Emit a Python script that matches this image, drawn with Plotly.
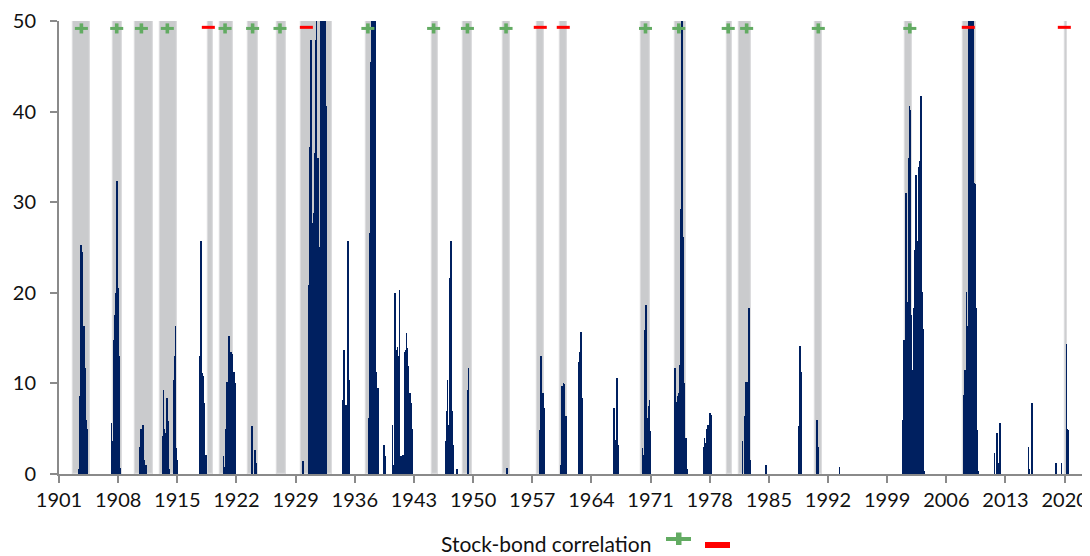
import plotly.graph_objects as go

# ---------------- data ----------------
# Recession periods (shaded bands), start month / end month
rec_start = ["1902-09", "1907-05", "1910-01", "1913-01", "1918-08", "1920-01", "1923-05",
             "1926-10", "1929-08", "1937-05", "1945-02", "1948-11", "1953-07", "1957-08",
             "1960-04", "1969-12", "1973-11", "1980-01", "1981-07", "1990-07", "2001-03",
             "2007-12", "2020-02"]
rec_end = ["1904-08", "1908-06", "1912-01", "1914-12", "1919-03", "1921-07", "1924-07",
           "1927-11", "1933-03", "1938-06", "1945-10", "1949-10", "1954-05", "1958-04",
           "1961-02", "1970-11", "1975-03", "1980-07", "1982-11", "1991-03", "2001-11",
           "2009-06", "2020-04"]

# Stock-bond correlation sign marker per recession (position in years)
marker_x = [1903.65, 1907.83, 1910.75, 1913.82, 1918.67, 1920.65, 1923.91, 1927.15,
            1930.27, 1937.55, 1945.33, 1949.33, 1953.90, 1957.95, 1960.67, 1970.40,
            1974.34, 1980.19, 1982.37, 1990.85, 2001.68, 2008.60, 2019.96]
marker_sign = ["+", "+", "+", "+", "-", "+", "+", "+", "-", "+", "+", "+", "+", "-",
               "-", "+", "+", "+", "+", "+", "+", "-", "-"]

# Monthly series (months not listed are zero)
months = (
    ["1903-05", "1903-06", "1903-07", "1903-08", "1903-09", "1903-10", "1903-11", "1903-12",
     "1904-01", "1904-02", "1904-03", "1904-04", "1904-05"]
    + ["1907-03", "1907-04", "1907-05", "1907-06", "1907-07", "1907-08", "1907-09", "1907-10",
       "1907-11", "1907-12", "1908-01", "1908-02", "1908-03"]
    + ["1910-08", "1910-09", "1910-10", "1910-11", "1910-12", "1911-01", "1911-02", "1911-04"]
    + ["1913-04", "1913-05", "1913-06", "1913-07", "1913-08", "1913-09", "1913-10", "1913-11",
       "1913-12", "1914-01", "1914-08", "1914-09", "1914-10", "1914-11", "1914-12"]
    + ["1917-08", "1917-09", "1917-10", "1917-11", "1917-12", "1918-01", "1918-02", "1918-03",
       "1918-04", "1918-05", "1918-06"]
    + ["1920-06", "1920-07", "1920-09", "1920-11", "1920-12", "1921-01", "1921-02", "1921-03",
       "1921-04", "1921-05", "1921-06", "1921-07", "1921-08", "1921-09", "1921-10", "1921-11"]
    + ["1923-11", "1924-03", "1924-04"]
    + ["1929-11",
       "1930-07", "1930-08", "1930-09", "1930-10", "1930-11", "1930-12",
       "1931-01", "1931-02", "1931-03", "1931-04", "1931-05", "1931-06",
       "1931-07", "1931-08", "1931-09", "1931-10", "1931-11", "1931-12",
       "1932-01", "1932-02", "1932-03", "1932-04", "1932-05", "1932-06", "1932-07", "1932-08"]
    + ["1934-07", "1934-08", "1934-09", "1934-10", "1934-11", "1934-12", "1935-01", "1935-02",
       "1935-03", "1935-04", "1935-05"]
    + ["1937-09", "1937-10", "1937-11", "1937-12", "1938-01", "1938-02", "1938-03", "1938-04",
       "1938-05", "1938-06", "1938-07", "1938-08", "1938-09", "1938-10"]
    + ["1939-06", "1939-07", "1939-08"]
    + ["1940-06", "1940-07", "1940-09", "1940-10", "1940-11", "1940-12", "1941-01", "1941-02",
       "1941-03", "1941-04", "1941-05", "1941-06", "1941-07", "1941-09", "1941-10", "1941-11",
       "1941-12", "1942-01", "1942-02", "1942-03", "1942-04", "1942-05", "1942-06", "1942-07",
       "1942-08", "1942-09", "1942-10"]
    + ["1946-10", "1946-11", "1946-12", "1947-01", "1947-02", "1947-03", "1947-04", "1947-05",
       "1947-06", "1947-07", "1947-08", "1948-02", "1949-05", "1949-06", "1954-01"]
    + ["1957-12", "1958-01", "1958-02", "1958-03", "1958-04", "1958-05", "1958-06"]
    + ["1960-05", "1960-06", "1960-07", "1960-08", "1960-09", "1960-10", "1960-11", "1960-12"]
    + ["1962-06", "1962-07", "1962-08", "1962-09", "1962-10", "1962-11", "1962-12"]
    + ["1966-09", "1966-10", "1966-11", "1967-01", "1967-02", "1967-03"]
    + ["1970-01", "1970-02", "1970-03", "1970-04", "1970-05", "1970-06", "1970-07", "1970-08",
       "1970-09", "1970-10", "1970-11", "1970-12"]
    + ["1973-11", "1973-12", "1974-01", "1974-02", "1974-03", "1974-04", "1974-05", "1974-06",
       "1974-07", "1974-08", "1974-09", "1974-10", "1974-11", "1974-12", "1975-01", "1975-02",
       "1975-03", "1975-04"]
    + ["1977-04", "1977-05", "1977-06", "1977-07", "1977-08", "1977-09", "1977-10", "1977-11",
       "1977-12", "1978-01", "1978-02", "1978-03"]
    + ["1981-11", "1982-03", "1982-04", "1982-05", "1982-06", "1982-07", "1982-08", "1982-09",
       "1982-10", "1984-08"]
    + ["1988-07", "1988-09", "1988-10", "1990-08", "1990-09", "1990-10", "1990-11", "1993-05"]
    + ["2000-11", "2000-12",
       "2001-01", "2001-02", "2001-03", "2001-04", "2001-05", "2001-06",
       "2001-07", "2001-08", "2001-09", "2001-10", "2001-11", "2001-12",
       "2002-01", "2002-02", "2002-03", "2002-04", "2002-05", "2002-06",
       "2002-07", "2002-08", "2002-09", "2002-10", "2002-11", "2002-12",
       "2003-01", "2003-02", "2003-03", "2003-04", "2003-05"]
    + ["2008-01", "2008-02", "2008-03", "2008-04", "2008-05", "2008-06", "2008-07", "2008-08",
       "2008-09", "2008-10", "2008-11", "2008-12", "2009-01", "2009-02", "2009-03", "2009-04",
       "2009-05", "2009-06", "2009-07", "2009-08", "2009-09"]
    + ["2011-09", "2011-12", "2012-01", "2012-02", "2012-04", "2012-05",
       "2015-09", "2015-10", "2016-02",
       "2018-12", "2019-01", "2019-08", "2020-03", "2020-04", "2020-05"]
)
values = (
    [0.5, 8.6, 16.8, 25.3, 24.5, 19.2, 11.7, 16.3, 11.7, 11.5, 6, 5, 0.5]
    + [5.6, 3.6, 2.5, 8, 14.8, 17.6, 20, 29, 32.3, 20.5, 14, 13, 0.7]
    + [3, 5, 3.5, 5.3, 5.4, 1.5, 1, 1]
    + [4.2, 9.3, 5, 4.5, 3.5, 5.8, 8.4, 3.2, 5.8, 0.5, 10.4, 13, 16.3, 2.9, 1.5]
    + [4.7, 13, 25.7, 22.4, 11.1, 10.8, 7.8, 6.9, 1.2, 2.1, 0.5]
    + [2, 0.8, 5, 10.2, 6.4, 9.5, 15.2, 11.5, 8.4, 13.5, 11, 13.2, 10.2, 11.3, 10, 0.7]
    + [5.3, 2.7, 1.2]
    + [1.4,
       20.9, 22.7, 36.1, 47.9, 30.5, 27.7,
       15.4, 28.8, 16.1, 35.4, 47.9, 55,
       21.4, 34.9, 34.7, 17.2, 25.1, 26.6,
       55, 55, 39.3, 55, 55, 55, 55, 40.6]
    + [5, 8.2, 13.7, 0.5, 2.1, 7.6, 7.5, 23.6, 25.7, 10.4, 10]
    + [6.2, 26.6, 37.4, 45.5, 55, 55, 55, 47.9, 55, 30, 11.3, 8.9, 9.5, 0.5]
    + [3.2, 2, 0.3]
    + [5.4, 1, 9.3, 20, 11.5, 13.7, 14, 10, 13, 20.3, 1.2, 2, 1.8, 2.1, 1.6, 13.5,
       12, 13.7, 15.6, 13.9, 11.9, 9.1, 8, 8.9, 7.8, 4, 5]
    + [3.6, 6.9, 10.4, 5.4, 4.5, 11.3, 21.6, 25.7, 13.5, 6.9, 3.2, 0.6, 9.3, 11.7, 0.7]
    + [4.9, 13, 3.2, 5.4, 8.9, 7.3, 3]
    + [1, 0.7, 9.7, 6.4, 10, 9.9, 5, 6.4]
    + [6.4, 12.4, 13.5, 11, 15.7, 8.4, 2.9]
    + [7.3, 3.8, 3.2, 10.6, 3.2, 2.1]
    + [2.9, 2.1, 2, 7.5, 15.9, 18.7, 5.6, 5.5, 6.2, 7.5, 8.2, 4.7]
    + [11.7, 11.3, 8, 8, 8.6, 8.5, 8.9, 12, 25.1, 29.2, 52, 25.5, 26.2, 10, 4, 0.3, 4, 0.6]
    + [3, 4, 3.4, 2.7, 4, 5, 5.4, 5, 4.3, 6.7, 6.5, 1.8]
    + [3.6, 6.4, 10.2, 10.1, 10, 3.8, 18.3, 4, 1.6, 1]
    + [5.3, 14.1, 11.3, 0.8, 6, 3, 1.4, 0.8]
    + [6, 14.8,
       13.2, 13.5, 31, 15.9, 17.8, 19,
       34.9, 40.6, 40.2, 14.8, 17.6, 11.5,
       9.9, 15.9, 18.3, 24.7, 33, 30.4,
       25.7, 16.7, 20.9, 33.9, 34.5, 34.7,
       41.7, 20.1, 16, 4.9, 0.3]
    + [7.8, 8.7, 11.5, 8.7, 20.1, 16.3, 16.3, 32.1, 55, 55, 55, 55, 55, 55, 44.6, 32.1,
       32, 21.3, 18.3, 4.9, 0.3]
    + [2.3, 4.5, 2.7, 1.2, 0.6, 5.6,
       3, 0.5, 7.8,
       1.2, 0.5, 1.2, 14.3, 5, 4.9]
)
assert len(months) == len(values)

x_tick_vals = list(range(1901, 2021, 7))
y_tick_vals = [0, 10, 20, 30, 40, 50]
legend_label = "Stock-bond correlation"

# ---------------- helpers ----------------
def ym(s):
    y, m = s.split("-")
    return int(y) + (int(m) - 1) / 12.0

bar_x = [ym(m) + 1 / 24.0 for m in months]
band_x0 = [ym(s) for s in rec_start]
band_x1 = [ym(e) + 1 / 12.0 for e in rec_end]
band_c = [(a + b) / 2 for a, b in zip(band_x0, band_x1)]
band_w = [b - a for a, b in zip(band_x0, band_x1)]

plus_x = [x for x, s in zip(marker_x, marker_sign) if s == "+"]
minus_x = [x for x, s in zip(marker_x, marker_sign) if s == "-"]

FONT = "Lato, 'Open Sans', sans-serif"
GREEN = "#62AB62"
RED = "#FF0000"
NAVY = "#002060"
BAND = "#CACBCD"
AXIS = "#8A8A8A"

# the page has an 8px body margin, so the figure is placed at (8, 8)
OFF = 8
W, H = 1090 - OFF, 556 - OFF
L, R, T, B = 59 - OFF, 0, 21 - OFF, 82
pw, ph = W - L - R, H - T - B

def pxx(x):  # page pixel -> paper
    return (x - OFF - L) / pw

def pxy(y):
    return (H - B - (y - OFF)) / ph

fig = go.Figure()

fig.add_trace(go.Bar(
    x=band_c, y=[50] * len(band_c), width=band_w,
    marker=dict(color=BAND, line=dict(color="#DCDCDE", width=1.2)),
    hoverinfo="skip", showlegend=False,
))
fig.add_trace(go.Bar(
    x=bar_x, y=values, width=1 / 12.0,
    marker=dict(color=NAVY, line=dict(width=0)),
    showlegend=False,
))
# plus: horizontal arm + vertical arm
fig.add_trace(go.Scatter(
    x=plus_x, y=[49.18] * len(plus_x), mode="markers", cliponaxis=False,
    marker=dict(symbol="line-ew", size=9.3, line=dict(color=GREEN, width=3)),
    showlegend=False, hoverinfo="skip",
))
fig.add_trace(go.Scatter(
    x=plus_x, y=[49.18] * len(plus_x), mode="markers", cliponaxis=False,
    marker=dict(symbol="line-ns", size=7.2, line=dict(color=GREEN, width=3.6)),
    showlegend=False, hoverinfo="skip",
))
fig.add_trace(go.Scatter(
    x=minus_x, y=[49.3] * len(minus_x), mode="markers", cliponaxis=False,
    marker=dict(symbol="line-ew", size=9.3, line=dict(color=RED, width=3)),
    showlegend=False, hoverinfo="skip",
))

# legend (text + symbols)
fig.add_annotation(
    xref="paper", yref="paper", x=pxx(653), y=pxy(543),
    xanchor="right", yanchor="middle", showarrow=False,
    text=legend_label, font=dict(family=FONT, size=21, color="#111111"),
)
shapes = [
    dict(type="rect", xref="paper", yref="paper", x0=pxx(666), x1=pxx(691),
         y0=pxy(541), y1=pxy(537), fillcolor=GREEN, line=dict(width=0)),
    dict(type="rect", xref="paper", yref="paper", x0=pxx(676), x1=pxx(681.5),
         y0=pxy(545), y1=pxy(532.5), fillcolor=GREEN, line=dict(width=0)),
    dict(type="rect", xref="paper", yref="paper", x0=pxx(705), x1=pxx(730),
         y0=pxy(548), y1=pxy(542), fillcolor=RED, line=dict(width=0)),
]

fig.update_layout(
    width=W, height=H,
    margin=dict(l=L, r=R, t=T, b=B, pad=0),
    paper_bgcolor="white", plot_bgcolor="white",
    barmode="overlay", bargap=0,
    showlegend=False,
    shapes=shapes,
    font=dict(family=FONT, size=20, color="#111111"),
    xaxis=dict(
        range=[1901, 2023], tickmode="array", tickvals=x_tick_vals,
        ticktext=[str(v) for v in x_tick_vals],
        showgrid=False, zeroline=False,
        showline=True, linecolor=AXIS, linewidth=2,
        ticks="outside", ticklen=7, tickwidth=2, tickcolor=AXIS,
        tickfont=dict(family=FONT, size=20, color="#111111"),
    ),
    yaxis=dict(
        range=[0, 50], tickmode="array", tickvals=y_tick_vals,
        showgrid=False, zeroline=False,
        showline=True, linecolor=AXIS, linewidth=2,
        ticks="outside", ticklen=7, tickwidth=2, tickcolor=AXIS,
        ticklabelstandoff=10,
        tickfont=dict(family=FONT, size=20, color="#111111"),
    ),
)

fig.write_html("out.html")
